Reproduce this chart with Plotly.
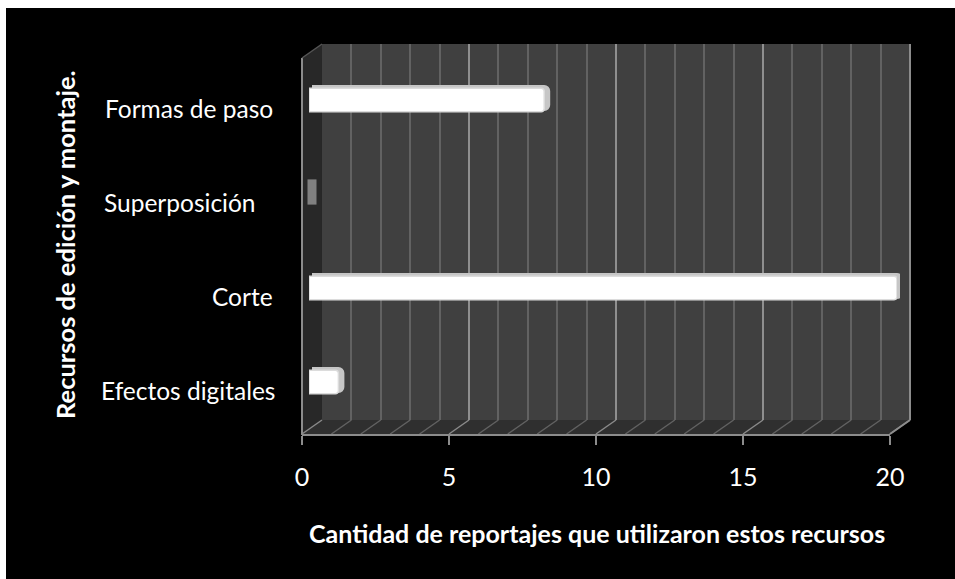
import plotly.graph_objects as go

W, H = 955, 579

# Chart data, listed bottom to top as on the axis
categories = ["Efectos digitales", "Corte", "Superposición", "Formas de paso"]
reportajes = [1, 20, 0, 8]
x_ticks = [0, 5, 10, 15, 20]
x_title = "Cantidad de reportajes que utilizaron estos recursos"
y_title = "Recursos de edición y montaje."

# Right end of each category label, in pixels
label_right = [277, 275, 258, 275]

FONT = "Lato, Open Sans, sans-serif"
FRONT_X0, BACK_X0, BAR_X0, SPAN = 302, 322, 309, 588
FRONT_Y, BACK_Y, TOP_Y = 434, 420, 44
ROW = 94
LINE = "#8c8c8c"


def fx(px):
    return px / W


def fy(px):
    return 1 - px / H


def xdomain(left):
    return [fx(left), fx(left + SPAN)]


def ydomain(first_centre):
    # Four category rows whose top row is centred on first_centre
    top = first_centre - ROW / 2
    return [fy(top + 4 * ROW), fy(top)]


def ax_front(v):
    return FRONT_X0 + SPAN * v / x_ticks[-1]


def ax_back(v):
    return BACK_X0 + SPAN * v / x_ticks[-1]


fig = go.Figure()

cat_axis = dict(type="category", categoryorder="array", categoryarray=categories,
                showgrid=False, showticklabels=False, ticks="", showline=False,
                zeroline=False, fixedrange=True)
hidden_x = dict(range=[0, x_ticks[-1]], visible=False, fixedrange=True)

# Back wall gridlines live on the first subplot so they stay behind the bars
fig.add_trace(go.Scatter(x=[0], y=[0], xaxis="x", yaxis="y", mode="markers",
                         marker=dict(opacity=0), hoverinfo="skip", showlegend=False))
# Depth of each bar: the same values on axes nudged up and to the right
fig.add_trace(go.Bar(
    y=categories, x=reportajes, orientation="h", xaxis="x2", yaxis="y2",
    width=0.215, cliponaxis=False,
    marker=dict(color="#c6c6c6", line=dict(color="#c6c6c6", width=[6, 6, 0, 6])),
    hoverinfo="skip", showlegend=False,
))
# A zero-length bar only shows its end cap, drawn here as a thick upright stroke
zero_cats = [c for c, v in zip(categories, reportajes) if v == 0]
zero_vals = [v for v in reportajes if v == 0]
fig.add_trace(go.Scatter(
    x=zero_vals, y=zero_cats, xaxis="x2", yaxis="y2", mode="markers", cliponaxis=False,
    marker=dict(symbol="line-ns", size=18, color="#808080",
                line=dict(color="#808080", width=9)),
    hoverinfo="skip", showlegend=False,
))
# Front face of each bar
fig.add_trace(go.Bar(
    y=categories, x=reportajes, orientation="h", xaxis="x3", yaxis="y3",
    width=0.25, cliponaxis=False,
    marker=dict(color="#ffffff", line=dict(color="#dcdcdc", width=[1.5, 1.5, 0, 1.5])),
    showlegend=False,
))
# Front axis subplot
fig.add_trace(go.Scatter(x=[0], y=[0], xaxis="x4", yaxis="y4", mode="markers",
                         marker=dict(opacity=0), hoverinfo="skip", showlegend=False))

fig.update_layout(
    width=W, height=H, margin=dict(l=0, r=0, t=0, b=0, autoexpand=False), autosize=False,
    paper_bgcolor="#ffffff", plot_bgcolor="rgba(0,0,0,0)",
    barmode="overlay", barcornerradius=3,
    font=dict(family=FONT, color="#ffffff", size=24),
    xaxis=dict(domain=xdomain(BACK_X0), range=[0, x_ticks[-1]], anchor="y",
               tickvals=x_ticks, showticklabels=False, ticks="", showgrid=True,
               gridcolor="#8f8f8f", gridwidth=2, zeroline=False, showline=False,
               minor=dict(dtick=1, showgrid=True, gridcolor="#626262", gridwidth=2),
               fixedrange=True),
    yaxis=dict(domain=[fy(BACK_Y), fy(TOP_Y)], anchor="x", visible=False, fixedrange=True),
    xaxis2=dict(domain=xdomain(BAR_X0 + 3), anchor="y2", **hidden_x),
    yaxis2=dict(domain=ydomain(98), anchor="x2", **cat_axis),
    xaxis3=dict(domain=xdomain(BAR_X0), anchor="y3", **hidden_x),
    yaxis3=dict(domain=ydomain(100), anchor="x3", **cat_axis),
    xaxis4=dict(domain=xdomain(FRONT_X0), range=[0, x_ticks[-1]], anchor="y4",
                tickvals=x_ticks, ticks="outside", ticklen=9, tickwidth=2, tickcolor=LINE,
                showline=True, linecolor=LINE, linewidth=2, showgrid=False, zeroline=False,
                ticklabelstandoff=11,
                tickfont=dict(family=FONT, size=25, color="#ffffff"), fixedrange=True),
    yaxis4=dict(domain=[fy(FRONT_Y), fy(FRONT_Y - 10)], anchor="x4", visible=False, fixedrange=True),
)


def poly(points, fill):
    path = "M " + " L ".join(f"{fx(x):.5f},{fy(y):.5f}" for x, y in points) + " Z"
    return dict(type="path", path=path, xref="paper", yref="paper", layer="below",
                fillcolor=fill, line=dict(color=fill, width=0))


def segment(x0, y0, x1, y1, color=LINE, width=2, layer="below"):
    return dict(type="line", xref="paper", yref="paper", layer=layer,
                x0=fx(x0), y0=fy(y0), x1=fx(x1), y1=fy(y1),
                line=dict(color=color, width=width))


back_right = ax_back(x_ticks[-1])
front_right = ax_front(x_ticks[-1])

shapes = [
    # Black panel on a white page
    dict(type="rect", xref="paper", yref="paper", layer="below", x0=fx(6), x1=fx(955), y0=fy(579), y1=fy(8),
         fillcolor="#000000", line=dict(width=0)),
    # Back wall, side wall and floor of the 3D box
    poly([(BACK_X0, TOP_Y), (back_right, TOP_Y), (back_right, BACK_Y), (BACK_X0, BACK_Y)], "#404040"),
    poly([(FRONT_X0, 58), (BACK_X0, TOP_Y), (BACK_X0, BACK_Y), (FRONT_X0, FRONT_Y)], "#282828"),
    poly([(FRONT_X0, FRONT_Y), (BACK_X0, BACK_Y), (back_right, BACK_Y), (front_right, FRONT_Y)], "#2f2f2f"),
]

# Floor lines running from each whole value on the front edge to the back wall
for v in range(x_ticks[-1] + 1):
    major = v in x_ticks
    shapes.append(segment(ax_front(v), FRONT_Y, ax_back(v), BACK_Y,
                          color="#8a8a8a" if major else "#626262", width=1.5))

shapes += [
    segment(FRONT_X0, 58, FRONT_X0, FRONT_Y + 1),
    segment(FRONT_X0, 58, BACK_X0, TOP_Y, color="#555555", width=1.5),
    segment(back_right, TOP_Y, back_right, BACK_Y),
    segment(back_right, BACK_Y, front_right, FRONT_Y),
]
fig.update_layout(shapes=shapes)

annotations = [
    dict(text=c, xref="paper", yref="y3", x=fx(r), y=c, xanchor="right", yanchor="middle",
         yshift=-8, showarrow=False, font=dict(family=FONT, size=24.5, color="#ffffff"))
    for c, r in zip(categories, label_right)
]
annotations += [
    dict(text=f"<b>{x_title}</b>", xref="paper", yref="paper", x=fx(597), y=fy(533),
         xanchor="center", yanchor="middle", showarrow=False,
         font=dict(family=FONT, size=25, color="#ffffff")),
    dict(text=f"<b>{y_title}</b>", xref="paper", yref="paper", x=fx(65), y=fy(245),
         xanchor="center", yanchor="middle", textangle=-90, showarrow=False,
         font=dict(family=FONT, size=25.5, color="#ffffff")),
]
fig.update_layout(annotations=annotations)

fig.write_html("out.html", config=dict(displayModeBar=False))
